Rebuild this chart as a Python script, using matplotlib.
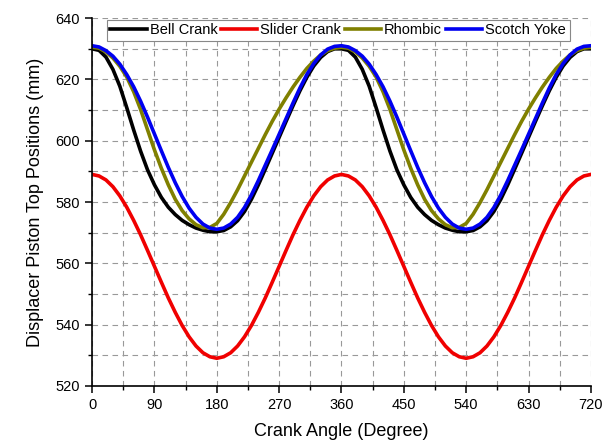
import numpy as np
import matplotlib.pyplot as plt
from matplotlib.ticker import MultipleLocator

plt.rcParams['font.family'] = ['Liberation Sans', 'DejaVu Sans']

# crank angle, every 10 degrees (0 - 720)
angle = list(range(0, 721, 10))

bell_crank = [630.0, 629.5, 627.3, 623.3, 617.8, 610.8, 603.5, 596.6, 590.5, 585.6,
              581.5, 578.3, 575.9, 574.0, 572.6, 571.5, 570.8, 570.3, 570.3,
              570.7, 571.9, 573.9, 576.9, 580.9, 585.6, 590.7, 595.9, 601.1,
              606.3, 611.4, 616.3, 620.7, 624.4, 627.2, 629.1, 630.0, 630.0,
              629.5, 627.3, 623.3, 617.8, 610.8, 603.5, 596.6, 590.5, 585.6,
              581.5, 578.3, 575.9, 574.0, 572.6, 571.5, 570.8, 570.3, 570.3,
              570.7, 571.9, 573.9, 576.9, 580.9, 585.6, 590.7, 595.9, 601.1,
              606.3, 611.4, 616.3, 620.7, 624.4, 627.2, 629.1, 630.0, 630.0]

slider_crank = [589.0, 588.5, 587.2, 585.0, 582.0, 578.3, 574.0, 569.3, 564.2, 559.0,
                553.8, 548.7, 544.0, 539.7, 536.0, 533.0, 530.8, 529.5, 529.0,
                529.5, 530.8, 533.0, 536.0, 539.7, 544.0, 548.7, 553.8, 559.0,
                564.2, 569.3, 574.0, 578.3, 582.0, 585.0, 587.2, 588.5, 589.0,
                588.5, 587.2, 585.0, 582.0, 578.3, 574.0, 569.3, 564.2, 559.0,
                553.8, 548.7, 544.0, 539.7, 536.0, 533.0, 530.8, 529.5, 529.0,
                529.5, 530.8, 533.0, 536.0, 539.7, 544.0, 548.7, 553.8, 559.0,
                564.2, 569.3, 574.0, 578.3, 582.0, 585.0, 587.2, 588.5, 589.0]

rhombic = [630.5, 630.2, 629.0, 627.0, 624.3, 620.8, 616.0, 610.2, 603.6, 597.0,
           591.0, 585.6, 580.9, 577.2, 574.5, 572.6, 571.6, 571.7, 573.0,
           576.0, 579.8, 584.0, 588.5, 593.0, 597.5, 602.0, 606.3, 610.3,
           614.0, 617.5, 620.7, 623.6, 626.0, 628.0, 629.4, 630.2, 630.5,
           630.2, 629.0, 627.0, 624.3, 620.8, 616.0, 610.2, 603.6, 597.0,
           591.0, 585.6, 580.9, 577.2, 574.5, 572.6, 571.6, 571.7, 573.0,
           576.0, 579.8, 584.0, 588.5, 593.0, 597.5, 602.0, 606.3, 610.3,
           614.0, 617.5, 620.7, 623.6, 626.0, 628.0, 629.4, 630.2, 630.5]

scotch_yoke = [631.0, 630.6, 629.4, 627.6, 625.0, 621.6, 617.6, 612.9, 607.7, 602.2,
               596.7, 591.3, 586.3, 581.8, 578.0, 575.0, 572.8, 571.5, 571.1,
               571.5, 572.8, 575.0, 578.2, 582.3, 587.0, 592.0, 597.0, 602.1,
               607.2, 612.3, 617.2, 621.6, 625.2, 628.0, 629.9, 630.8, 631.0,
               630.6, 629.4, 627.6, 625.0, 621.6, 617.6, 612.9, 607.7, 602.2,
               596.7, 591.3, 586.3, 581.8, 578.0, 575.0, 572.8, 571.5, 571.1,
               571.5, 572.8, 575.0, 578.2, 582.3, 587.0, 592.0, 597.0, 602.1,
               607.2, 612.3, 617.2, 621.6, 625.2, 628.0, 629.9, 630.8, 631.0]

fig = plt.figure(figsize=(6.06, 4.43), dpi=100)
ax = fig.add_axes([0.152, 0.129, 0.823, 0.830])

lw = 2.6
ax.plot(angle, bell_crank, color='black', lw=lw, label='Bell Crank')
ax.plot(angle, slider_crank, color='#f00000', lw=lw, label='Slider Crank')
ax.plot(angle, rhombic, color='#808000', lw=lw, label='Rhombic')
ax.plot(angle, scotch_yoke, color='#0000f0', lw=lw, label='Scotch Yoke')

ax.set_xlim(0, 720)
ax.set_ylim(520, 640)
ax.xaxis.set_major_locator(MultipleLocator(90))
ax.xaxis.set_minor_locator(MultipleLocator(45))
ax.yaxis.set_major_locator(MultipleLocator(20))
ax.yaxis.set_minor_locator(MultipleLocator(10))

ax.grid(True, which='both', color='#999999', linestyle=(0, (5, 4)), linewidth=0.8)
ax.set_axisbelow(True)

for s in ['top', 'right']:
    ax.spines[s].set_visible(False)
for s in ['left', 'bottom']:
    ax.spines[s].set_linewidth(1.2)

ax.tick_params(which='major', direction='out', length=5, width=1.1, labelsize=10.5, pad=4)
ax.tick_params(which='minor', direction='out', length=3, width=1.0)

ax.set_xlabel('Crank Angle (Degree)', fontsize=13, labelpad=8)
ax.set_ylabel('Displacer Piston Top Positions (mm)', fontsize=13, labelpad=8)

leg = ax.legend(loc='upper left', bbox_to_anchor=(0.026, 1.0), ncol=4, fontsize=10.5,
                handlelength=2.5, handletextpad=0.2, columnspacing=0.25, borderpad=0.25,
                borderaxespad=0.1, fancybox=False, framealpha=1, edgecolor='#888888')
leg.get_frame().set_linewidth(0.8)

fig.savefig('out.png', dpi=100)
